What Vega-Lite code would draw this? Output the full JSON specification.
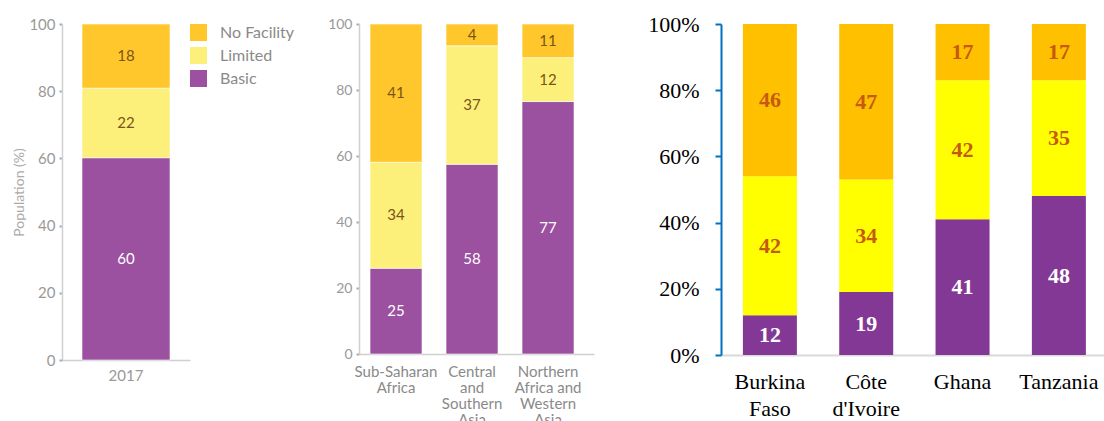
{
  "$schema": "https://vega.github.io/schema/vega-lite/v6.json",
  "background": "white",
  "padding": {"left": 12, "top": 13, "right": 0, "bottom": 0},
  "autosize": {"type": "pad"},
  "bounds": "flush",
  "spacing": 169,
  "datasets": {
    "global": [
      {"year": "2017", "status": "Basic", "value": 60.2, "label": "60"},
      {"year": "2017", "status": "Limited", "value": 20.7, "label": "22"},
      {"year": "2017", "status": "No Facility", "value": 19.1, "label": "18"}
    ],
    "regions": [
      {"region": "Sub-Saharan Africa", "status": "Basic", "value": 26.0, "label": "25"},
      {"region": "Sub-Saharan Africa", "status": "Limited", "value": 32.1, "label": "34"},
      {"region": "Sub-Saharan Africa", "status": "No Facility", "value": 41.9, "label": "41"},
      {"region": "Central and Southern Asia", "status": "Basic", "value": 57.5, "label": "58"},
      {"region": "Central and Southern Asia", "status": "Limited", "value": 35.9, "label": "37"},
      {"region": "Central and Southern Asia", "status": "No Facility", "value": 6.6, "label": "4"},
      {"region": "Northern Africa and Western Asia", "status": "Basic", "value": 76.5, "label": "77"},
      {"region": "Northern Africa and Western Asia", "status": "Limited", "value": 13.3, "label": "12"},
      {"region": "Northern Africa and Western Asia", "status": "No Facility", "value": 10.2, "label": "11"}
    ],
    "countries": [
      {"country": "Burkina Faso", "status": "Basic", "value": 12, "label": "12"},
      {"country": "Burkina Faso", "status": "Limited", "value": 42, "label": "42"},
      {"country": "Burkina Faso", "status": "No Facility", "value": 46, "label": "46"},
      {"country": "Côte d'Ivoire", "status": "Basic", "value": 19, "label": "19"},
      {"country": "Côte d'Ivoire", "status": "Limited", "value": 34, "label": "34"},
      {"country": "Côte d'Ivoire", "status": "No Facility", "value": 47, "label": "47"},
      {"country": "Ghana", "status": "Basic", "value": 41, "label": "41"},
      {"country": "Ghana", "status": "Limited", "value": 42, "label": "42"},
      {"country": "Ghana", "status": "No Facility", "value": 17, "label": "17"},
      {"country": "Tanzania", "status": "Basic", "value": 48, "label": "48"},
      {"country": "Tanzania", "status": "Limited", "value": 35, "label": "35"},
      {"country": "Tanzania", "status": "No Facility", "value": 17, "label": "17"}
    ]
  },
  "resolve": {"scale": {"color": "independent", "x": "independent", "y": "independent"}},
  "hconcat": [
    {
      "width": 128,
      "height": 336,
      "data": {"name": "global"},
      "transform": [
        {"stack": "value", "groupby": ["year"], "sort": [{"field": "status", "order": "ascending"}], "as": ["v0", "v1"]},
        {"calculate": "(datum.v0 + datum.v1) / 2", "as": "mid"}
      ],
      "encoding": {
        "x": {
          "field": "year", "type": "nominal", "title": null,
          "axis": {"labelAngle": 0, "labelFont": "Lato", "labelFontSize": 15, "labelColor": "#999999", "domainColor": "#d0d0d0", "domainWidth": 1.5, "ticks": false, "labelPadding": 8}
        }
      },
      "layer": [
        {
          "mark": {"type": "bar", "width": 88, "stroke": "#ffffff", "strokeWidth": 0.6},
          "encoding": {
            "y": {
              "field": "v0", "type": "quantitative", "scale": {"domain": [0, 100], "nice": false},
              "title": "Population (%)",
              "axis": {"values": [0, 20, 40, 60, 80, 100], "grid": false, "labelFont": "Lato", "labelFontSize": 15, "labelColor": "#999999", "domainColor": "#d0d0d0", "domainWidth": 1.5, "tickColor": "#aaaaaa", "tickSize": 3, "tickWidth": 2, "labelPadding": 4, "titleFont": "Lato", "titleFontSize": 14, "titleFontWeight": "normal", "titleColor": "#aaaaaa", "titlePadding": 2}
            },
            "y2": {"field": "v1"},
            "color": {
              "field": "status", "type": "nominal",
              "scale": {"domain": ["No Facility", "Limited", "Basic"], "range": ["#FFC72C", "#FDF07A", "#9B519F"]},
              "legend": {"title": null, "orient": "none", "legendX": 128, "legendY": 0, "symbolType": "square", "symbolSize": 289, "symbolStrokeWidth": 0, "labelFont": "Lato", "labelFontSize": 16, "labelColor": "#8a8a8a", "rowPadding": 6, "labelOffset": 13, "padding": 0}
            }
          }
        },
        {
          "mark": {"type": "text", "font": "Lato", "fontSize": 15, "baseline": "middle"},
          "encoding": {
            "y": {"field": "mid", "type": "quantitative"},
            "text": {"field": "label"},
            "color": {"condition": {"test": "datum.status == 'Basic'", "value": "#ffffff"}, "value": "#7a5418"}
          }
        }
      ]
    },
    {
      "bounds": "flush",
      "spacing": 127,
      "resolve": {"scale": {"color": "independent", "x": "independent", "y": "independent"}},
      "hconcat": [
        {
          "width": 235,
          "height": 330,
          "data": {"name": "regions"},
          "transform": [
            {"stack": "value", "groupby": ["region"], "sort": [{"field": "status", "order": "ascending"}], "as": ["v0", "v1"]},
            {"calculate": "(datum.v0 + datum.v1) / 2", "as": "mid"}
          ],
          "encoding": {
            "x": {
              "field": "region", "type": "nominal", "sort": null, "title": null,
              "scale": {"paddingInner": 0.3, "paddingOuter": 0.196, "align": 0.35},
              "axis": {"labelAngle": 0, "labelFont": "Lato", "labelFontSize": 15, "labelColor": "#8a8a8a", "labelLineHeight": 16, "domainColor": "#d0d0d0", "domainWidth": 1.5, "ticks": false, "labelPadding": 10, "labelBaseline": "top",
                "labelExpr": "datum.label == 'Sub-Saharan Africa' ? ['Sub-Saharan', 'Africa'] : datum.label == 'Central and Southern Asia' ? ['Central', 'and', 'Southern', 'Asia'] : ['Northern', 'Africa and', 'Western', 'Asia']"}
            }
          },
          "layer": [
            {
              "mark": {"type": "bar", "width": 52, "stroke": "#ffffff", "strokeWidth": 0.6},
              "encoding": {
                "y": {
                  "field": "v0", "type": "quantitative", "scale": {"domain": [0, 100], "nice": false}, "title": null,
                  "axis": {"values": [0, 20, 40, 60, 80, 100], "grid": false, "labelFont": "Lato", "labelFontSize": 14, "labelColor": "#999999", "domainColor": "#d0d0d0", "domainWidth": 1.5, "tickColor": "#aaaaaa", "tickSize": 3, "tickWidth": 2, "labelPadding": 4}
                },
                "y2": {"field": "v1"},
                "color": {
                  "field": "status", "type": "nominal",
                  "scale": {"domain": ["No Facility", "Limited", "Basic"], "range": ["#FFC72C", "#FDF07A", "#9B519F"]},
                  "legend": null
                }
              }
            },
            {
              "mark": {"type": "text", "font": "Lato", "fontSize": 15, "baseline": "middle"},
              "encoding": {
                "y": {"field": "mid", "type": "quantitative"},
                "text": {"field": "label"},
                "color": {"condition": {"test": "datum.status == 'Basic'", "value": "#ffffff"}, "value": "#7a5418"}
              }
            }
          ]
        },
        {
          "width": 383,
          "height": 331,
          "data": {"name": "countries"},
          "transform": [
            {"stack": "value", "groupby": ["country"], "sort": [{"field": "status", "order": "ascending"}], "as": ["v0", "v1"]},
            {"calculate": "(datum.v0 + datum.v1) / 2", "as": "mid"}
          ],
          "encoding": {
            "x": {
              "field": "country", "type": "nominal", "sort": null, "title": null,
              "scale": {"paddingInner": 0.44, "paddingOuter": 0.208, "align": 0.547},
              "axis": {"labelAngle": 0, "labelFont": "Liberation Serif", "labelFontSize": 22, "labelColor": "#000000", "labelLineHeight": 27, "domainColor": "#d9d9d9", "domainWidth": 2, "ticks": false, "labelPadding": 16, "labelBaseline": "top", "labelExpr": "split(datum.label, ' ')"}
            }
          },
          "layer": [
            {
              "mark": {"type": "bar", "width": 54},
              "encoding": {
                "y": {
                  "field": "v0", "type": "quantitative", "scale": {"domain": [0, 100], "nice": false}, "title": null,
                  "axis": {"values": [0, 10, 20, 30, 40, 50, 60, 70, 80, 90, 100], "labelExpr": "datum.value % 20 == 0 ? datum.value + '%' : ''", "grid": false, "labelFont": "Liberation Serif", "labelFontSize": 22, "labelColor": "#000000", "domainColor": "#0070C0", "domainWidth": 2, "tickColor": "#0070C0", "tickSize": 6, "tickWidth": 2, "labelPadding": 16}
                },
                "y2": {"field": "v1"},
                "color": {
                  "field": "status", "type": "nominal",
                  "scale": {"domain": ["No Facility", "Limited", "Basic"], "range": ["#FFC000", "#FFFF00", "#833896"]},
                  "legend": null
                }
              }
            },
            {
              "mark": {"type": "text", "font": "Liberation Serif", "fontSize": 22, "fontWeight": "bold", "baseline": "middle"},
              "encoding": {
                "y": {"field": "mid", "type": "quantitative"},
                "text": {"field": "label"},
                "color": {"condition": {"test": "datum.status == 'Basic'", "value": "#ffffff"}, "value": "#C55A11"}
              }
            }
          ]
        }
      ]
    }
  ],
  "config": {"view": {"stroke": null}}
}
